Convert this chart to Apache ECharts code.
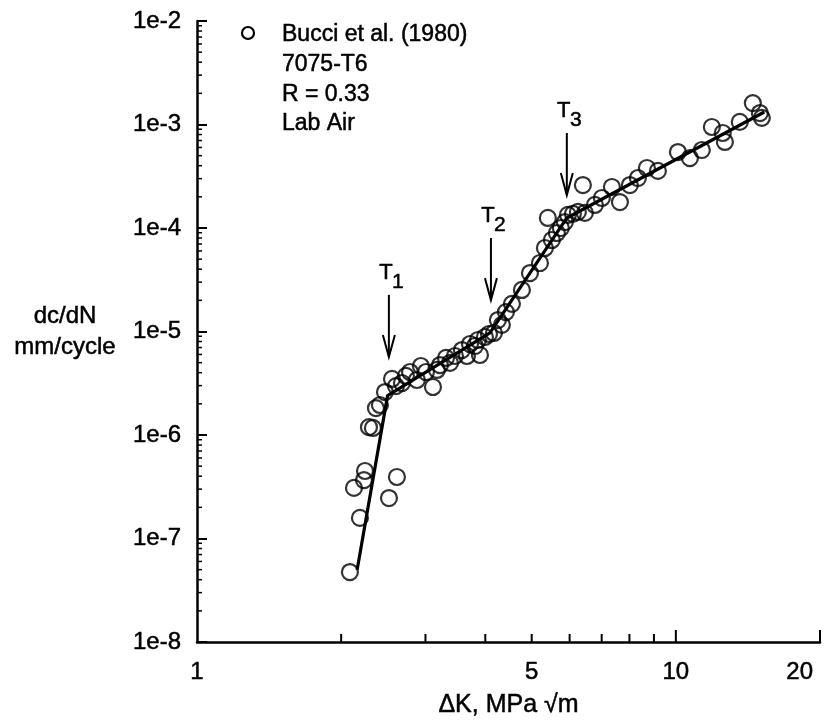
<!DOCTYPE html>
<html>
<head>
<meta charset="utf-8">
<title>Bucci et al. (1980) 7075-T6</title>
<script src="https://cdn.jsdelivr.net/npm/echarts@6/dist/echarts.min.js"></script>
<style>
  html, body { margin: 0; padding: 0; background: #fff; }
  #chart { width: 833px; height: 722px; }
</style>
</head>
<body>
<div id="chart"></div>
<script>
// measured points, dK (MPa sqrt m)
const dK = [2.086, 2.127, 2.189, 2.232, 2.243, 2.286, 2.330, 2.364, 2.410, 2.469,
  2.517, 2.615, 2.554, 2.603, 2.679, 2.731, 2.785, 2.879, 2.935, 3.007,
  3.110, 3.170, 3.217, 3.311, 3.375, 3.457, 3.575, 3.662, 3.716, 3.806,
  3.861, 3.898, 3.993, 4.071, 4.169, 4.250, 4.332, 4.417, 4.546, 4.770,
  4.958, 5.202, 5.328, 5.404, 5.509, 5.643, 5.753, 5.865, 5.950, 6.095,
  6.243, 6.457, 6.395, 6.775, 7.007, 7.353, 7.642, 8.017, 8.331, 8.701,
  9.173, 10.10, 10.70, 11.33, 11.89, 12.53, 12.66, 13.60, 14.48, 14.98, 15.12]
// dc/dN (mm/cycle)
const dcdN = [4.74e-8, 3.08e-7, 1.58e-7, 3.67e-7, 4.49e-7, 1.19e-6, 1.17e-6, 1.82e-6, 1.95e-6, 2.60e-6,
  2.46e-7, 3.93e-7, 3.48e-6, 2.97e-6, 3.18e-6, 3.72e-6, 4.06e-6, 3.40e-6, 4.64e-6, 4.06e-6,
  2.91e-6, 4.25e-6, 4.74e-6, 5.55e-6, 4.97e-6, 5.80e-6, 6.62e-6, 5.80e-6, 7.57e-6, 7.24e-6,
  8.28e-6, 5.93e-6, 8.85e-6, 9.46e-6, 9.68e-6, 1.29e-5, 1.16e-5, 1.54e-5, 1.85e-5, 2.52e-5,
  3.67e-5, 4.59e-5, 6.41e-5, 1.25e-4, 7.66e-5, 8.95e-5, 1.00e-4, 1.14e-4, 1.34e-4, 1.37e-4,
  1.43e-4, 1.40e-4, 2.60e-4, 1.67e-4, 1.95e-4, 2.49e-4, 1.78e-4, 2.60e-4, 3.04e-4, 3.80e-4,
  3.56e-4, 5.42e-4, 4.74e-4, 5.67e-4, 9.46e-4, 8.28e-4, 6.78e-4, 1.06e-3, 1.61e-3, 1.29e-3, 1.16e-3]

// piecewise fit through the transitions
const fitK = [2.16, 2.50, 4.09, 5.92, 15.3]
const fitRate = [5.0e-8, 2.4e-6, 9.7e-6, 1.25e-4, 1.32e-3]

// transition arrows T1, T2, T3
const transK = [2.516, 4.11, 5.92]
const transTop = [2.26e-5, 8.0e-5, 8.28e-4]
const transTip = [5.68e-6, 2.01e-5, 2.08e-4]
const transSub = ['1', '2', '3']

// axis ticks
const xTicks = [2, 3, 4, 5, 6, 7, 8, 9, 10, 20]
const xLabels = [1, 5, 10, 20]
const yDecades = [1e-8, 1e-7, 1e-6, 1e-5, 1e-4, 1e-3]
const yMinorSteps = [2, 3, 4, 5, 6, 7, 8, 9]

const noteLines = ['7075-T6', 'R = 0.33', 'Lab Air']

const FONT = 'Liberation Sans, Arial, sans-serif'
// 扫描图字体偏粗，描一点边
const INK_AXIS = { textBorderColor: '#000', textBorderWidth: 0.5 }
const INK = { stroke: '#000', lineWidth: 0.5 }

const yMinor = []
yDecades.forEach(d => yMinorSteps.forEach(m => yMinor.push([1, m * d])))

const chart = echarts.init(document.getElementById('chart'), null, { renderer: 'canvas' })

const option = {
  animation: false,
  backgroundColor: '#fff',
  //不让v6自动收缩绘图区
  grid: { left: 197, right: 13, top: 21, bottom: 80, outerBoundsMode: 'none' },
  xAxis: {
    type: 'log',
    logBase: 10,
    min: 1,
    max: 20,
    name: '\u0394K, MPa \u221Am',
    nameLocation: 'middle',
    nameGap: 51,
    nameTextStyle: Object.assign({ color: '#000', fontSize: 25, fontFamily: FONT }, INK_AXIS),
    axisLine: { lineStyle: { color: '#000', width: 2.5 } },
    axisTick: { show: false },
    axisLabel: { show: false },
    splitLine: { show: false },
  },
  yAxis: {
    type: 'log',
    logBase: 10,
    min: 1e-8,
    max: 1e-2,
    name: 'dc/dN\nmm/cycle',
    nameLocation: 'middle',
    nameRotate: 0,
    nameGap: 132,
    nameTextStyle: Object.assign({ color: '#000', fontSize: 24, fontFamily: FONT, align: 'center', lineHeight: 31 }, INK_AXIS),
    axisLine: { lineStyle: { color: '#000', width: 2.5 } },
    axisTick: { inside: true, length: 10, lineStyle: { color: '#000', width: 2 } },
    axisLabel: Object.assign({
      color: '#000',
      fontSize: 24,
      fontFamily: FONT,
      margin: 16,
      formatter: v => '1e' + Math.round(Math.log10(v)),
    }, INK_AXIS),
    splitLine: { show: false },
  },
  graphic: [
    {
      type: 'circle',
      shape: { cx: 248, cy: 33, r: 6 },
      style: { fill: 'none', stroke: '#000', lineWidth: 2.2 },
    },
    {
      type: 'text',
      x: 282, y: 35,
      style: Object.assign({ text: 'Bucci et al. (1980)', font: '23px ' + FONT, fill: '#000', textVerticalAlign: 'middle' }, INK),
    },
  ].concat(noteLines.map((t, i) => ({
    type: 'text',
    x: 282, y: 65 + i * 29.5,
    style: Object.assign({ text: t, font: '23px ' + FONT, fill: '#000', textVerticalAlign: 'middle' }, INK),
  }))),
  series: [
    {
      // fitted line
      type: 'line',
      data: fitK.map((k, i) => [k, fitRate[i]]),
      symbol: 'none',
      lineStyle: { color: '#000', width: 3.2 },
      z: 3,
    },
    {
      name: 'Bucci et al. (1980)',
      type: 'scatter',
      data: dK.map((k, i) => [k, dcdN[i]]),
      symbol: 'circle',
      symbolSize: 16,
      itemStyle: { color: 'rgba(0,0,0,0)', borderColor: '#000', borderWidth: 2.2 },
      z: 4,
    },
    {
      // x ticks, pointing up from the axis
      type: 'custom',
      data: xTicks.map(v => [v, 1e-8]),
      clip: false,
      renderItem: (params, api) => {
        const v = api.value(0)
        const p = api.coord([v, 1e-8])
        const len = v >= 10 ? 12 : 8
        return {
          type: 'line',
          shape: { x1: p[0], y1: p[1], x2: p[0], y2: p[1] - len },
          style: { stroke: '#000', lineWidth: 2 },
        }
      },
    },
    {
      // x tick labels, the last one kept inside the page
      type: 'custom',
      data: xLabels.map(v => [v, 1e-8]),
      clip: false,
      renderItem: (params, api) => {
        const v = api.value(0)
        const p = api.coord([v, 1e-8])
        const last = params.dataIndex === xLabels.length - 1
        return {
          type: 'text',
          x: last ? p[0] - 7 : p[0], y: p[1] + 30,
          style: Object.assign({
            text: String(v), font: '24px ' + FONT, fill: '#000',
            textAlign: last ? 'right' : 'center', textVerticalAlign: 'middle',
          }, INK),
        }
      },
    },
    {
      // y minor ticks
      type: 'custom',
      data: yMinor,
      clip: false,
      renderItem: (params, api) => {
        const p = api.coord([1, api.value(1)])
        return {
          type: 'line',
          shape: { x1: p[0], y1: p[1], x2: p[0] + 5, y2: p[1] },
          style: { stroke: '#000', lineWidth: 1.5 },
        }
      },
    },
    {
      // transition arrows with labels
      type: 'custom',
      data: transK.map((k, i) => [k, transTop[i], transTip[i]]),
      clip: false,
      renderItem: (params, api) => {
        const i = params.dataIndex
        const top = api.coord([api.value(0), api.value(1)])
        const tip = api.coord([api.value(0), api.value(2)])
        return {
          type: 'group',
          children: [
            {
              type: 'line',
              shape: { x1: top[0], y1: top[1], x2: tip[0], y2: tip[1] },
              style: { stroke: '#000', lineWidth: 2 },
            },
            {
              type: 'polyline',
              shape: { points: [[tip[0] - 6, tip[1] - 22], [tip[0], tip[1]], [tip[0] + 6, tip[1] - 22]] },
              style: { stroke: '#000', lineWidth: 2, fill: 'none' },
            },
            {
              type: 'text',
              x: top[0] - 3, y: top[1] - 22,
              style: Object.assign({ text: 'T', font: '22px ' + FONT, fill: '#000', textAlign: 'center', textVerticalAlign: 'middle' }, INK),
            },
            {
              type: 'text',
              x: top[0] + 9, y: top[1] - 13,
              style: Object.assign({ text: transSub[i], font: '21px ' + FONT, fill: '#000', textAlign: 'center', textVerticalAlign: 'middle' }, INK),
            },
          ],
        }
      },
    },
  ],
}

chart.setOption(option)
</script>
</body>
</html>
